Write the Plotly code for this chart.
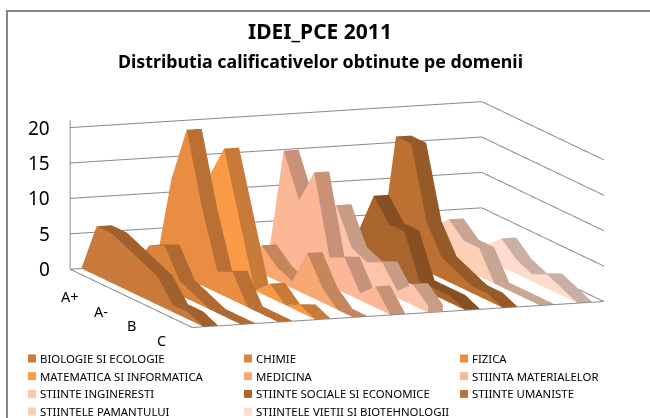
import math
import plotly.graph_objects as go

grades = ["A+", "A", "A-", "B+", "B", "B-", "C", "C-", "D"]
shown_grades = ["A+", "A-", "B", "C"]
value_ticks = [0, 5, 10, 15, 20]

biologie = [0, 7, 7, 6, 5, 4, 1, 1, 0]
chimie = [0, 1, 5, 6, 2, 1, 0, 0, 0]
fizica = [0, 13, 21, 11, 3, 4, 0, 0, 0]
matematica = [0, 13, 18, 9, 0, 2, 0, 1, 0]
medicina = [0, 0, 4, 2, 1, 6, 2, 0, 0]
materiale = [0, 16, 10, 15, 4, 5, 1, 3, 0]
inginerie = [0, 3, 9, 4, 3, 4, 1, 3, 1]
sociale = [0, 4, 10, 7, 7, 1, 1, 1, 0]
umaniste = [0, 17, 17, 7, 3, 2, 1, 1, 0]
pamant = [0, 4, 6, 4, 4, 0, 0, 0, 0]
vietii = [0, 1, 2, 4, 2, 1, 2, 1, 0]

names = ["BIOLOGIE SI ECOLOGIE", "CHIMIE", "FIZICA", "MATEMATICA SI INFORMATICA", "MEDICINA",
         "STIINTA MATERIALELOR", "STIINTE INGINERESTI", "STIINTE SOCIALE SI ECONOMICE",
         "STIINTE UMANISTE", "STIINTELE PAMANTULUI", "STIINTELE VIETII SI BIOTEHNOLOGII"]
series = [biologie, chimie, fizica, matematica, medicina, materiale, inginerie, sociale, umaniste, pamant, vietii]
colors = ["#c97a3a", "#dc843c", "#e98d42", "#fa9a46", "#f8a872", "#fbb796", "#fcc4a8",
          "#a8652c", "#bc7133", "#fcd0b8", "#fddccd"]
GRID = "#8a8a8a"
THETA, PHI, R = math.radians(20), math.radians(10), 1.15
W, H = 650, 418
ZOOM = 1.75 / 357


def shade(c, f=0.8):
    return "#" + "".join(f"{int(int(c[i:i+2], 16) * f):02x}" for i in (1, 3, 5))


depth = [len(grades) - 1 - k for k in range(len(grades))]
fig = go.Figure()
for i, (vals, col) in enumerate(zip(series, colors)):
    x0, x1 = i + 0.3, i + 0.7
    xs, ys, zs, a, b, c, fc = [], [], [], [], [], [], []

    def quad(p, color):
        s = len(xs)
        for q in p:
            xs.append(q[0]); ys.append(q[1]); zs.append(q[2])
        a.extend([s, s]); b.extend([s + 1, s + 2]); c.extend([s + 2, s + 3]); fc.extend([color, color])

    dark = shade(col)
    for k in range(len(vals) - 1):
        y, yn, v, vn = depth[k], depth[k + 1], vals[k], vals[k + 1]
        quad([(x0, y, 0), (x0, yn, 0), (x0, yn, vn), (x0, y, v)], col)
        quad([(x1, y, 0), (x1, yn, 0), (x1, yn, vn), (x1, y, v)], col)
        quad([(x0, y, v), (x0, yn, vn), (x1, yn, vn), (x1, y, v)], dark)
    quad([(x0, depth[-1], 0), (x1, depth[-1], 0), (x1, depth[-1], vals[-1]), (x0, depth[-1], vals[-1])], dark)
    fig.add_trace(go.Mesh3d(x=xs, y=ys, z=zs, i=a, j=b, k=c, facecolor=fc, flatshading=True,
                            lighting=dict(ambient=1, diffuse=0, specular=0, fresnel=0, roughness=1),
                            hoverinfo="skip", showlegend=False, showscale=False))

n, m = len(series), depth[0]
top = 21
for t in value_ticks[1:]:
    fig.add_trace(go.Scatter3d(x=[0, n, n], y=[m, m, 0], z=[t, t, t], mode="lines",
                               line=dict(color=GRID, width=2), hoverinfo="skip", showlegend=False))
fig.add_trace(go.Scatter3d(x=[0, 0, 0, n, n, 0], y=[m, m, 0, 0, m, m], z=[top, 0, 0, 0, 0, 0], mode="lines",
                           line=dict(color=GRID, width=2), hoverinfo="skip", showlegend=False))

ann = [dict(x=0, y=m, z=t, text=str(t), showarrow=False, xanchor="right", xshift=-18,
            font=dict(size=19, color="#000000")) for t in value_ticks]
ann += [dict(x=0, y=depth[grades.index(g)], z=0, text=g, showarrow=False, xanchor="center",
             yshift=-27, font=dict(size=14.5, color="#000000")) for g in shown_grades]

# legend: three columns, filled row by row
shapes = [dict(type="rect", xref="paper", yref="paper", x0=7 / W, x1=1.05, y0=-0.05, y1=1 - 11 / H,
               line=dict(color="#868686", width=2))]
notes = [
    dict(xref="paper", yref="paper", x=320 / W, y=1 - 31 / H, yanchor="middle", text="<b>IDEI_PCE 2011</b>",
         showarrow=False, font=dict(size=21)),
    dict(xref="paper", yref="paper", x=320 / W, y=1 - 61 / H, yanchor="middle",
         text="<b>Distributia calificativelor obtinute pe domenii</b>", showarrow=False, font=dict(size=17.8)),
]
for idx, (name, col) in enumerate(zip(names, colors)):
    lx = 28 + 216 * (idx % 3)
    ly = 358.5 + 17.7 * (idx // 3)
    shapes.append(dict(type="rect", xref="paper", yref="paper", x0=lx / W, x1=(lx + 8) / W,
                       y0=1 - (ly + 4) / H, y1=1 - (ly - 4) / H, line=dict(width=0), fillcolor=col))
    notes.append(dict(xref="paper", yref="paper", x=(lx + 10) / W, y=1 - ly / H, xanchor="left", yanchor="middle",
                      text=name, showarrow=False, font=dict(size=11.4)))

axis = dict(visible=False, showgrid=False, showline=False, zeroline=False, showticklabels=False,
            showspikes=False, showbackground=False)
fig.update_layout(
    width=W, height=H, margin=dict(l=0, r=0, t=0, b=0), paper_bgcolor="white", plot_bgcolor="white",
    font=dict(family="Noto Sans", color="#000000"), showlegend=False,
    scene=dict(
        domain=dict(x=[24 / W, 1.0], y=[3 / H, 1 - 7 / H]),
        xaxis=dict(axis, range=[0, n]), yaxis=dict(axis, range=[0, m]), zaxis=dict(axis, range=[0, top]),
        aspectmode="manual", aspectratio=dict(x=438 * ZOOM, y=357 * ZOOM, z=151 * ZOOM),
        annotations=ann,
        camera=dict(projection=dict(type="orthographic"), up=dict(x=0, y=0, z=1),
                    eye=dict(x=-R * math.sin(THETA) * math.cos(PHI), y=-R * math.cos(THETA) * math.cos(PHI),
                             z=R * math.sin(PHI))),
    ),
    annotations=notes,
    shapes=shapes,
)
fig.write_html("out.html", post_script="document.body.style.margin='0';", config=dict(displayModeBar=False))
